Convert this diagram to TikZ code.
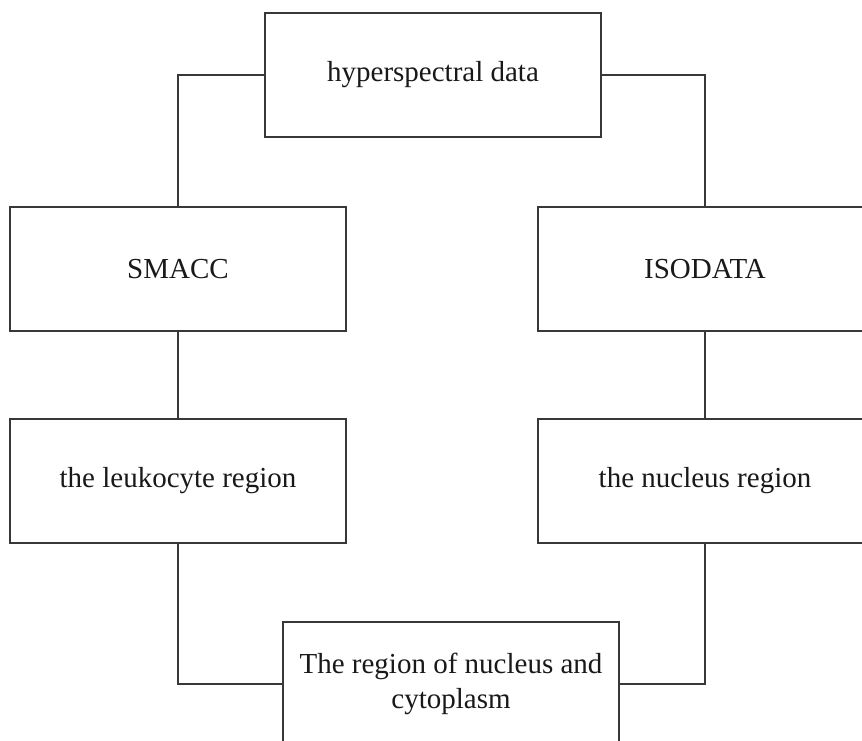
\documentclass[tikz,border=0pt]{standalone}
\usepackage{fontspec}
\setmainfont{Liberation Serif}
\begin{document}
\begin{tikzpicture}[x=1pt,y=-1pt,
  box/.style={draw=black!78,line width=1.6pt,rectangle,minimum width=336pt,minimum height=124pt,
    inner sep=0pt,font=\fontsize{29}{35}\selectfont,align=center,text=black!90},
  link/.style={draw=black!78,line width=1.6pt}]
\useasboundingbox (0,0) rectangle (862,740);
\fill[white] (0,0) rectangle (862,740);
\clip (0,0) rectangle (862,740);
\node[box] (hyp) at (433,75) {hyperspectral data};
\node[box] (smacc) at (178,269) {SMACC};
\node[box,minimum width=334pt] (iso) at (705,269) {ISODATA};
\node[box] (leuk) at (178,481) {the leukocyte region};
\node[box,minimum width=334pt] (nuc) at (705,481) {the nucleus region};
\node[box] (bot) at (451,684) {The region of nucleus and\\cytoplasm};
\draw[link] (hyp.west) -| (smacc.north);
\draw[link] (hyp.east) -| (iso.north);
\draw[link] (smacc.south) -- (leuk.north);
\draw[link] (iso.south) -- (nuc.north);
\draw[link] (leuk.south) |- (bot.west);
\draw[link] (nuc.south) |- (bot.east);
\end{tikzpicture}
\end{document}
